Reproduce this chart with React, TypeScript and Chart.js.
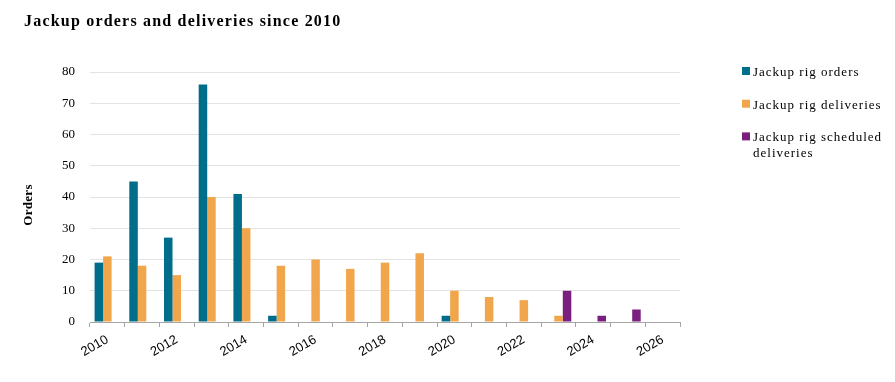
import { useEffect, useRef } from 'react';
import { Chart, registerables } from 'chart.js';

Chart.register(...registerables);

const titleText = 'Jackup orders and deliveries since 2010';
const yAxisTitle = 'Orders';
const years = ['2010', '2011', '2012', '2013', '2014', '2015', '2016', '2017', '2018', '2019', '2020', '2021', '2022', '2023', '2024', '2025', '2026'];
const orders = [19, 45, 27, 76, 41, 2, null, null, null, null, 2, null, null, null, null, null, null];
const deliveries = [21, 18, 15, 40, 30, 18, 20, 17, 19, 22, 10, 8, 7, 2, null, null, null];
const scheduled = [null, null, null, null, null, null, null, null, null, null, null, null, null, 10, 2, 4, null];
const seriesNames = ['Jackup rig orders', 'Jackup rig deliveries', 'Jackup rig scheduled deliveries'];
const legendLines = [['Jackup rig orders'], ['Jackup rig deliveries'], ['Jackup rig scheduled', 'deliveries']];
const colors = ['#006E8A', '#F2A64B', '#7A1F80'];
const yTicks = { min: 0, max: 80, step: 10 };

const SERIF = '"Liberation Serif", "Times New Roman", serif';
const SANS = '"Liberation Sans", Arial, sans-serif';

const overlay = {
  id: 'overlay',
  afterDraw(chart: any) {
    const ctx = chart.ctx as CanvasRenderingContext2D;
    const a = chart.chartArea;
    ctx.save();
    ctx.fillStyle = '#000';
    // title
    ctx.font = `bold 16px ${SERIF}`;
    (ctx as any).letterSpacing = '1.2px';
    ctx.textAlign = 'left';
    ctx.textBaseline = 'alphabetic';
    ctx.fillText(titleText, 16, 18);
    // y axis title
    ctx.save();
    ctx.font = `bold 13px ${SERIF}`;
    (ctx as any).letterSpacing = '0.3px';
    ctx.translate(21, (a.top + a.bottom) / 2 + 8);
    ctx.rotate(-Math.PI / 2);
    ctx.textAlign = 'center';
    ctx.textBaseline = 'middle';
    ctx.fillText(yAxisTitle, 0, 0);
    ctx.restore();
    // legend
    ctx.font = `13px ${SERIF}`;
    (ctx as any).letterSpacing = '1px';
    ctx.textAlign = 'left';
    ctx.textBaseline = 'alphabetic';
    const x0 = a.right + 62;
    chart.data.datasets.forEach((ds: any, i: number) => {
      const top = a.top - 5 + i * 32.7;
      ctx.fillStyle = ds.backgroundColor;
      ctx.fillRect(x0, top, 8, 8);
      ctx.fillStyle = '#000';
      legendLines[i].forEach((line, j) => {
        ctx.fillText(line, x0 + 11, top + 9 + j * 16);
      });
    });
    ctx.restore();
  },
};

export default function App() {
  const ref = useRef<HTMLCanvasElement>(null);
  useEffect(() => {
    if (!ref.current) return;
    const chart = new Chart(ref.current, {
      type: 'bar',
      data: {
        labels: years,
        datasets: [orders, deliveries, scheduled].map((d, i) => ({
          label: seriesNames[i],
          data: d,
          backgroundColor: colors[i],
          borderWidth: 0,
          categoryPercentage: 0.736,
          barPercentage: 1,
        })),
      },
      options: {
        animation: false,
        responsive: false,
        devicePixelRatio: 1,
        layout: { padding: { left: 22, right: 207, top: 64, bottom: 8 } },
        plugins: {
          legend: { display: false },
          tooltip: { enabled: false },
          title: { display: false },
        },
        scales: {
          x: {
            afterFit: (s: any) => { s.height = 44; },
            grid: { offset: true, drawOnChartArea: false, drawTicks: true, tickLength: 5, color: '#a6a6a6' },
            border: { display: true, color: '#a6a6a6' },
            ticks: {
              autoSkip: false,
              maxRotation: 30,
              minRotation: 30,
              padding: 5,
              color: '#000',
              font: { family: SANS, size: 13 },
              callback: (_v: any, i: number) => (i % 2 === 0 ? years[i] : ''),
            },
          },
          y: {
            min: yTicks.min,
            max: yTicks.max,
            afterFit: (s: any) => { s.width = 60; },
            grid: { color: '#e3e3e3', drawTicks: false },
            border: { display: false },
            ticks: {
              stepSize: yTicks.step,
              padding: 15,
              color: '#000',
              font: { family: SERIF, size: 13 },
            },
          },
        },
      },
      plugins: [overlay],
    });
    return () => chart.destroy();
  }, []);
  return <canvas ref={ref} width={879} height={366} style={{ display: 'block' }} />;
}
